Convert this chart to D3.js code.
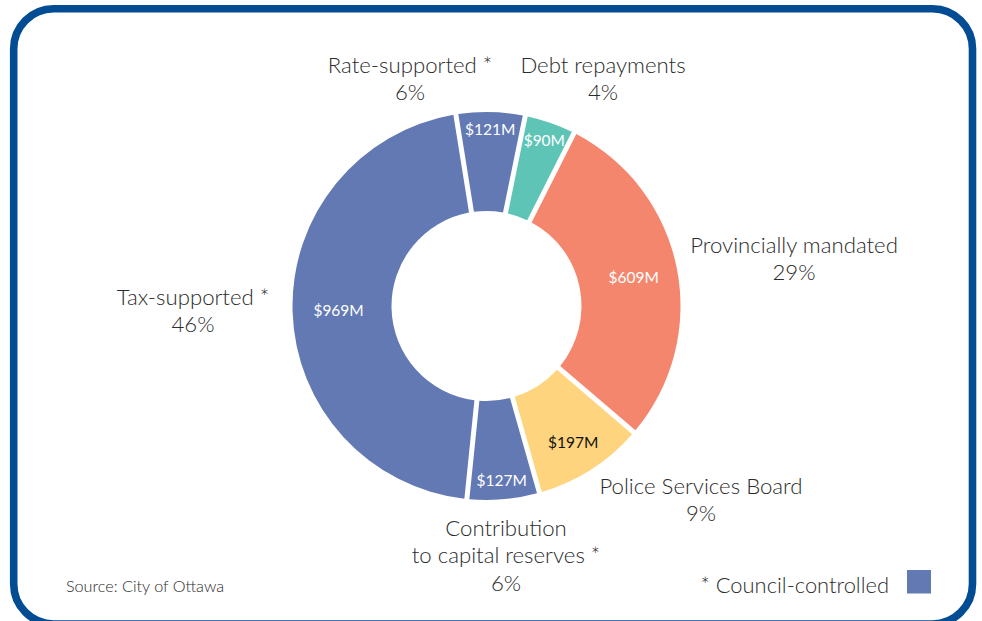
<!DOCTYPE html>
<html>
<head>
<meta charset="utf-8">
<script src="https://cdn.jsdelivr.net/npm/d3@7"></script>
<style>
  html, body { margin: 0; padding: 0; background: #fff; }
  svg { display: block; }
  text { font-family: Lato, "Open Sans", sans-serif; }
</style>
</head>
<body>
<svg id="chart" width="982" height="621"></svg>
<script>
// Operating budget breakdown (millions of dollars)
const categories = [
  "Rate-supported *",
  "Debt repayments",
  "Provincially mandated",
  "Police Services Board",
  "Contribution to capital reserves *",
  "Tax-supported *"
];
const values = [121, 90, 609, 197, 127, 969];
const valueLabels = ["$121M", "$90M", "$609M", "$197M", "$127M", "$969M"];
const percentLabels = ["6%", "4%", "29%", "9%", "6%", "46%"];
const labelLines = [
  ["Rate-supported *"],
  ["Debt repayments"],
  ["Provincially mandated"],
  ["Police Services Board"],
  ["Contribution", "to capital reserves *"],
  ["Tax-supported *"]
];
const colors = ["#6279b3", "#5ec4b6", "#f5866e", "#fed47e", "#6279b3", "#6279b3"];
const valueTextColors = ["#fff", "#fff", "#fff", "#111", "#fff", "#fff"];

// layout
const cx = 486.5, cy = 306;
const outerR = 194, innerR = 95;
const startAngle = -9.1 * Math.PI / 180;
const valueLabelRadius = [177, 176, 150, 161, 175, 148];
// outside label anchors: [x, y of first line]
const outerLabelPos = [[410, 64], [603, 64], [794, 244], [701, 485], [506, 527], [193, 296]];
const lineH = 27.5;

const svg = d3.select("#chart");

// rounded frame
svg.append("rect")
  .attr("x", 13.7).attr("y", 8.8)
  .attr("width", 972.5 - 13.7).attr("height", 624 - 8.8)
  .attr("rx", 40).attr("ry", 40)
  .attr("fill", "none")
  .attr("stroke", "#024c94")
  .attr("stroke-width", 7.6);

const pie = d3.pie().sort(null).value(d => d)
  .startAngle(startAngle).endAngle(startAngle + 2 * Math.PI);
const arcs = pie(values);

const arc = d3.arc()
  .innerRadius(innerR).outerRadius(outerR)
  .padAngle(5 / outerR).padRadius(outerR);

const g = svg.append("g").attr("transform", `translate(${cx},${cy})`);

g.selectAll("path.slice")
  .data(arcs)
  .join("path")
  .attr("class", "slice")
  .attr("d", arc)
  .attr("fill", (d, i) => colors[i]);

// value labels inside slices
g.selectAll("text.value")
  .data(arcs)
  .join("text")
  .attr("class", "value")
  .attr("transform", (d, i) => {
    const a = (d.startAngle + d.endAngle) / 2;
    const r = valueLabelRadius[i];
    return `translate(${r * Math.sin(a)},${-r * Math.cos(a)})`;
  })
  .attr("text-anchor", "middle")
  .attr("dominant-baseline", "central")
  .attr("font-size", 15.5)
  .attr("fill", (d, i) => valueTextColors[i])
  .text((d, i) => valueLabels[i]);

// category labels with percentages
categories.forEach((c, i) => {
  const [x, y] = outerLabelPos[i];
  const lines = labelLines[i].concat([percentLabels[i]]);
  const t = svg.append("text")
    .attr("text-anchor", "middle")
    .attr("font-size", 22.2)
    .attr("font-weight", 300)
    .attr("fill", "#2b2b2b");
  lines.forEach((ln, k) => {
    t.append("tspan")
      .attr("x", x)
      .attr("y", y + k * lineH)
      .attr("dominant-baseline", "central")
      .text(ln);
  });
});

// source note
svg.append("text")
  .attr("x", 66).attr("y", 585)
  .attr("dominant-baseline", "central")
  .attr("font-size", 16.2)
  .attr("font-weight", 300)
  .attr("fill", "#2b2b2b")
  .text("Source: City of Ottawa");

// council-controlled key
svg.append("text")
  .attr("x", 889).attr("y", 584)
  .attr("text-anchor", "end")
  .attr("dominant-baseline", "central")
  .attr("font-size", 21.9)
  .attr("font-weight", 300)
  .attr("fill", "#2b2b2b")
  .text("* Council-controlled");
svg.append("rect")
  .attr("x", 907).attr("y", 570)
  .attr("width", 24).attr("height", 23.5)
  .attr("fill", colors[0]);
</script>
</body>
</html>
